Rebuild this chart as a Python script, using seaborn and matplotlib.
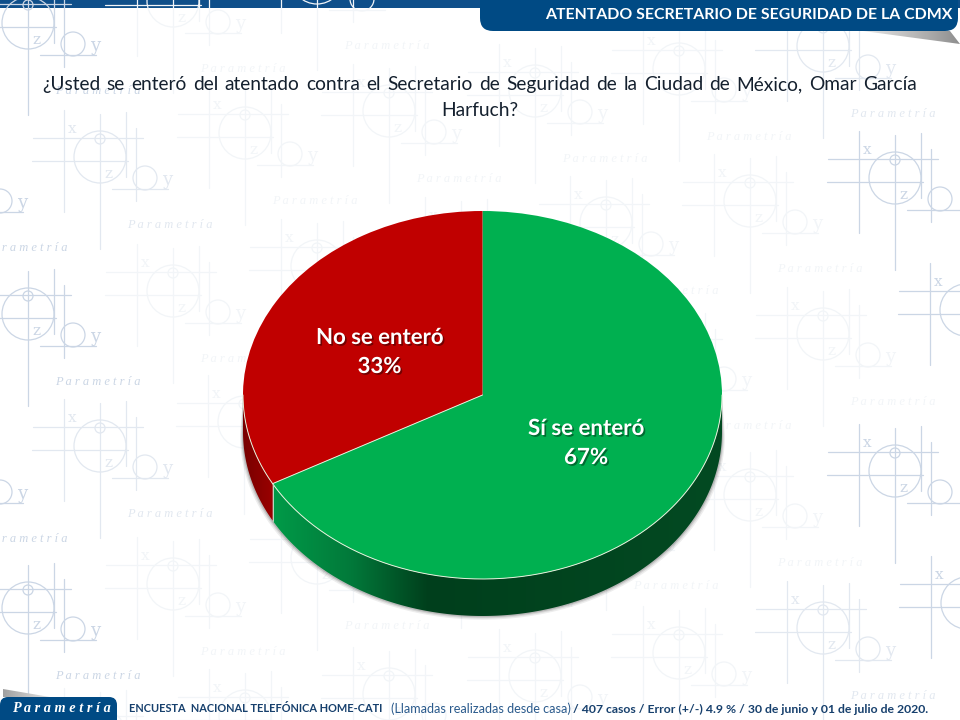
import numpy as np
import matplotlib
matplotlib.use("Agg")
import matplotlib.pyplot as plt
import matplotlib.patheffects as pe
from matplotlib.colors import to_rgb
from matplotlib.patches import FancyBboxPatch, Polygon, Circle
import seaborn as sns

# ---- chart values -------------------------------------------------------
categories = ["Sí se enteró", "No se enteró"]
shares = [67, 33]
slice_colors = ["#00B050", "#C00000"]
banner_title = "ATENTADO SECRETARIO DE SEGURIDAD DE LA CDMX"
question_line1 = "¿Usted se enteró del atentado contra el Secretario de Seguridad de la Ciudad de México, Omar García"
question_line2 = "Harfuch?"
footer_a = "ENCUESTA  NACIONAL TELEFÓNICA HOME-CATI"
footer_b = "(Llamadas realizadas desde casa)"
footer_c = "/ 407 casos / Error (+/-) 4.9 % / 30 de junio y 01 de julio de 2020."
brand = "P a r a m e t r í a"

sns.set_theme(style="white")
palette = sns.color_palette(slice_colors)
NAVY = "#004A84"
SANS = "Lato"

fig = plt.figure(figsize=(9.6, 7.2), dpi=100, facecolor="white")
bg = fig.add_axes([0, 0, 1, 1], zorder=1)
bg.set_xlim(0, 960); bg.set_ylim(720, 0); bg.axis("off")
renderer = fig.canvas.get_renderer()


def fit(ax, s, x0, x1, y, ref=12, **kw):
    """Text whose rendered width spans x0..x1 pixels."""
    t = ax.text(x0, y, s, fontsize=ref, ha="left", va="center", **kw)
    w = t.get_window_extent(renderer).width
    t.set_fontsize(ref * (x1 - x0) / w)
    return t


# ---- top bar ------------------------------------------------------------
bg.add_patch(plt.Rectangle((0, 0), 960, 8, fc="#0F4F8A", ec="none", zorder=1))

# ---- watermark ----------------------------------------------------------
STRONG, MED, PALE = "#CBD6E5", "#E2E8F0", "#F2F5F8"
motifs = [
    (28, 5, STRONG), (173, -17, PALE), (317, -40, PALE),
    (-45, 162, STRONG), (100, 139, MED), (245, 115, PALE), (389, 93, PALE), (535, 73, PALE),
    (679, 51, PALE), (823, 28, MED),
    (28, 296, STRONG), (173, 273, PALE), (317, 248, PALE), (461, 226, PALE), (606, 205, PALE),
    (750, 183, PALE), (895, 160, STRONG),
    (-45, 453, STRONG), (100, 428, MED), (244, 404, PALE), (389, 384, PALE), (535, 362, PALE),
    (679, 340, PALE), (823, 316, PALE), (966, 292, STRONG),
    (28, 590, STRONG), (173, 566, PALE), (317, 540, PALE), (461, 518, PALE), (606, 500, PALE),
    (750, 477, PALE), (895, 453, STRONG),
    (100, 717, PALE), (245, 698, PALE), (389, 676, PALE), (535, 658, PALE), (679, 635, PALE),
    (823, 610, MED), (967, 585, STRONG),
]
v_lines = [(-36, -29, 73), (0, -25, 110), (26, -27, 38), (36, -11, 62)]
h_lines = [(-1, -67, 43), (22, -68, 28), (50, 12, 68)]


def on_canvas(x, y, half_w=8, half_h=8):
    return half_w <= x <= 960 - half_w and half_h <= y <= 720 - half_h


for mx, my, col in motifs:
    z = 2
    bg.add_patch(Circle((mx, my), 5, fc="none", ec=col, lw=0.9, zorder=z))
    bg.add_patch(Circle((mx, my + 18), 26, fc="none", ec=col, lw=0.9, zorder=z))
    bg.add_patch(Circle((mx + 45, my + 39), 12, fc="none", ec=col, lw=0.9, zorder=z))
    for x, a, b in v_lines:
        bg.plot([mx + x, mx + x], [my + a, my + b], color=col, lw=0.9, zorder=z)
    for y, a, b in h_lines:
        bg.plot([mx + a, mx + b], [my + y, my + y], color=col, lw=0.9, zorder=z)
    for lab, dx, dy, fs in (("x", -28, -10, 11), ("z", 8, 35, 11), ("y", 67, 41, 13)):
        if on_canvas(mx + dx, my + dy):
            bg.text(mx + dx, my + dy, lab, color=col, fontsize=fs, family="DejaVu Serif",
                    ha="center", va="center", zorder=z, clip_on=True)
    if on_canvas(mx + 70, my + 86, 8, 8):
        bg.text(mx + 70, my + 86, brand, color=col, fontsize=9, family="Liberation Serif",
                style="italic", ha="center", va="center", zorder=z, clip_on=True)


def gradient_poly(ax, pts, xs, cols, zorder):
    """Fill a polygon with a horizontal colour ramp."""
    pts = np.asarray(pts)
    x0, x1 = pts[:, 0].min(), pts[:, 0].max()
    y0, y1 = pts[:, 1].min(), pts[:, 1].max()
    grid = np.linspace(x0, x1, 400)
    ramp = np.stack([np.interp(grid, xs, [to_rgb(c)[i] for c in cols]) for i in range(3)], axis=-1)
    lims = ax.get_xlim(), ax.get_ylim()
    im = ax.imshow(ramp[None, :, :], extent=(x0, x1, y0, y1), aspect="auto", zorder=zorder,
                   interpolation="bilinear")
    poly = Polygon(pts, closed=True, transform=ax.transData, fc="none", ec="none")
    ax.add_patch(poly)
    im.set_clip_path(poly)
    ax.set_xlim(lims[0]); ax.set_ylim(lims[1])


# ---- banner / logo ------------------------------------------------------
gradient_poly(bg, [(863, 31), (950, 31), (960, 44)], [863, 960], ["#E8E8E8", "#8E8E8E"], 3)
gradient_poly(bg, [(3, 689), (50, 697), (3, 697)], [3, 50], ["#A0A0A0", "#E4E4E4"], 3)
bg.add_patch(FancyBboxPatch((480, -25), 478, 56, boxstyle="round,pad=0,rounding_size=13",
                            fc=NAVY, ec="none", zorder=4))
bg.add_patch(FancyBboxPatch((0, 697), 117, 40, boxstyle="round,pad=0,rounding_size=8",
                            fc=NAVY, ec="none", zorder=4))
fit(bg, banner_title, 545, 951, 15, color="white", family=SANS, weight="bold", zorder=5)
fit(bg, brand, 12, 110, 709, color="white", family="Liberation Serif", style="italic",
    weight="bold", zorder=5)

# ---- pie ----------------------------------------------------------------
CX, CY, RX, RY, DEPTH = 482.5, 395.0, 239.5, 184.0, 37.0
PADX, PADY = 12.0, 60.0       # room in the axes for the side wall and its shadow
pie_ax = fig.add_axes([(CX - RX - PADX) / 960, (720 - CY - RY - PADY) / 720,
                       (2 * RX + 2 * PADX) / 960, (2 * RY + PADY) / 720], zorder=2)
pie_ax.patch.set_alpha(0)
wedges, _ = pie_ax.pie(shares, colors=palette, startangle=90, counterclock=False, radius=1,
                       wedgeprops={"linewidth": 0})
pie_ax.set_aspect("auto")
pie_ax.set_xlim(-1 - PADX / RX, 1 + PADX / RX); pie_ax.set_ylim(-1 - PADY / RY, 1)
pie_ax.axis("off")
for w in wedges:
    w.set_zorder(5)

seam = 360.0 * shares[0] / sum(shares)   # clockwise from 12 o'clock
d = DEPTH / RY


def arc(a, b, n=240):
    t = np.radians(np.linspace(a, b, n))
    return np.sin(t), np.cos(t)


def wall(a, b, depth=d, grow=1.0):
    x, y = arc(a, b)
    return np.r_[np.c_[x, y], np.c_[x[::-1] * grow, y[::-1] - depth]]


for extra, alpha in ((0.020, 0.10), (0.013, 0.14), (0.007, 0.22)):
    pie_ax.add_patch(Polygon(wall(90, 270, d + extra, 1 + extra * 0.6), closed=True, fc="#505050",
                             ec="none", alpha=alpha, zorder=1))
gradient_poly(pie_ax, wall(90, seam), [-0.876, -0.55, -0.23, 1.0],
              ["#009A48", "#02793A", "#003F1C", "#034A22"], 2)
gradient_poly(pie_ax, wall(seam, 270), [-1.0, -0.876], ["#780000", "#9A0000"], 2)

# pale rim along the front and the seam
rx_, ry_ = arc(90, 270)
pie_ax.plot(rx_, ry_, color="#E6F2DC", lw=0.7, zorder=6)
sx, sy = np.sin(np.radians(seam)), np.cos(np.radians(seam))
pie_ax.plot([0, sx], [0, sy], color="#E6F2DC", lw=0.7, zorder=6)
pie_ax.plot([sx, sx], [sy, sy - d], color="#BFD8C0", lw=0.7, zorder=6)

# ---- foreground text ----------------------------------------------------
fg = fig.add_axes([0, 0, 1, 1], zorder=3)
fg.set_xlim(0, 960); fg.set_ylim(720, 0); fg.axis("off"); fg.patch.set_alpha(0)

Q_COL = "#14202E"
t2 = fit(fg, question_line2, 441, 518, 110, color=Q_COL, family=SANS)
qsize = t2.get_fontsize()
words = question_line1.split()
tmp = [fg.text(0, 90, w, fontsize=qsize, family=SANS, color=Q_COL, ha="left", va="baseline") for w in words]
widths = [t.get_window_extent(renderer).width for t in tmp]
gap = (917 - 42 - sum(widths)) / (len(words) - 1)
x = 42.0
for t, w in zip(tmp, widths):
    t.set_x(x)
    x += w + gap

shadow = [pe.SimplePatchShadow(offset=(1.2, -1.2), shadow_rgbFace="black", alpha=0.4), pe.Normal()]
label_spans = {"Sí se enteró": (528, 644, 428.5, 457.5), "No se enteró": (316, 443, 337.5, 366.5)}
for cat, val in zip(categories, shares):
    a, b, y1, y2 = label_spans[cat]
    t = fit(fg, cat, a, b, y1, color="white", family=SANS, weight="bold")
    t.set_path_effects(shadow)
    fg.text((a + b) / 2, y2, f"{val}%", color="white", family=SANS, weight="bold",
            fontsize=t.get_fontsize(), ha="center", va="center", path_effects=shadow)

FOOT = "#17406D"
fit(fg, footer_a, 129, 384, 709, color=FOOT, family=SANS, weight="bold")
fit(fg, footer_b, 391, 570, 709, color="#2A5A8C", family=SANS)
fit(fg, footer_c, 573, 927, 709, color=FOOT, family=SANS, weight="bold")

fig.savefig("out.png", dpi=100)
